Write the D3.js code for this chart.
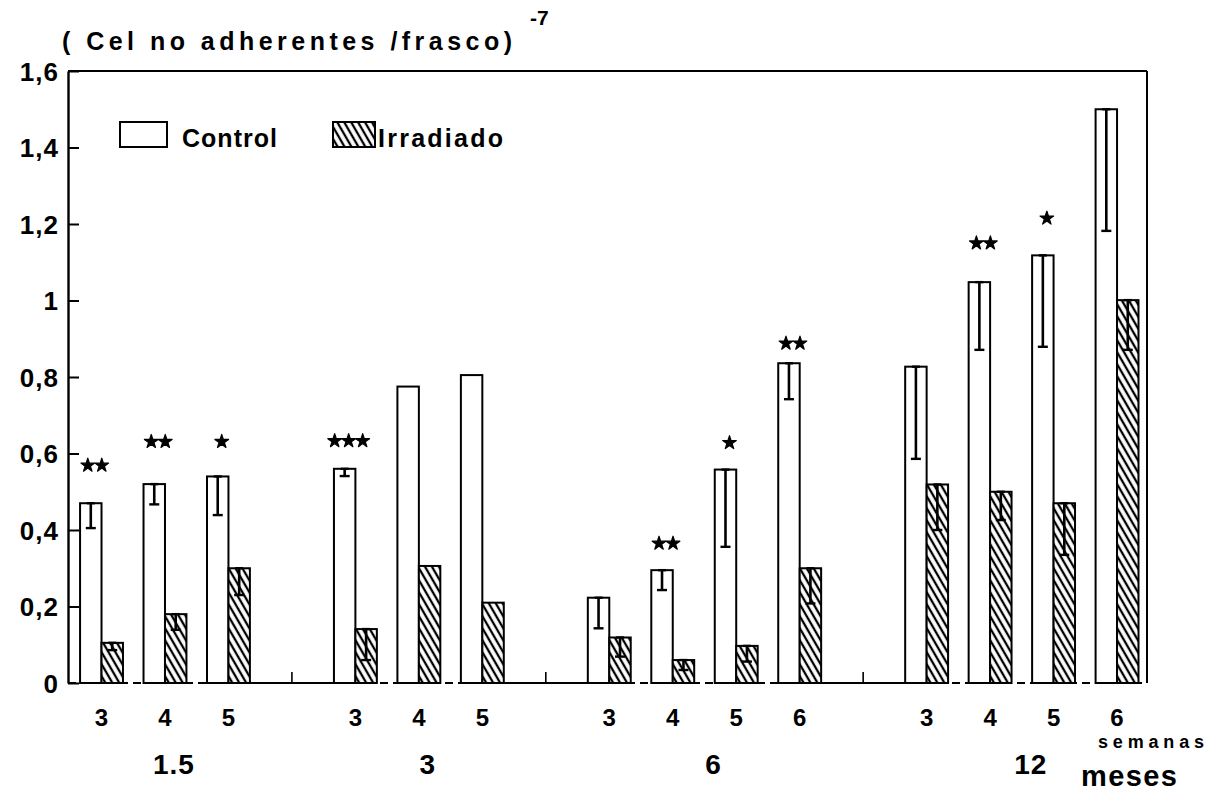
<!DOCTYPE html>
<html>
<head>
<meta charset="utf-8">
<script src="https://cdn.jsdelivr.net/npm/d3@7/dist/d3.min.js"></script>
<style>
  html, body { margin: 0; padding: 0; background: #fff; }
  svg { display: block; font-family: "Liberation Sans", Arial, Helvetica, sans-serif; font-weight: bold; }
</style>
</head>
<body>
<svg id="chart" width="1227" height="798"></svg>
<script>
// Age of the animals (months) and culture week within each age group
const months = ["1.5", "3", "6", "12"];
const weeks = [[3, 4, 5], [3, 4, 5], [3, 4, 5, 6], [3, 4, 5, 6]];

// Non-adherent cells per flask (x 10^7), mean and standard error
const controlMean = [[0.47, 0.52, 0.54], [0.56, 0.775, 0.805], [0.223, 0.295, 0.558, 0.836], [0.827, 1.048, 1.118, 1.50]];
const controlSE   = [[0.065, 0.053, 0.101], [0.019, 0, 0], [0.08, 0.052, 0.202, 0.094], [0.241, 0.177, 0.239, 0.318]];
const irradMean   = [[0.105, 0.18, 0.30], [0.141, 0.306, 0.21], [0.119, 0.06, 0.097, 0.30], [0.519, 0.50, 0.47, 1.001]];
const irradSE     = [[0.019, 0.041, 0.07], [0.081, 0, 0], [0.05, 0.026, 0.041, 0.092], [0.119, 0.074, 0.135, 0.13]];

// Significance marks and the level at which they sit
const signif   = [["**", "**", "*"], ["***", "", ""], ["", "**", "*", "**"], ["", "**", "*", ""]];
const sigLevel = [[0.569, 0.631, 0.631], [0.633, 0, 0], [0, 0.365, 0.628, 0.888], [0, 1.15, 1.215, 0]];

// Value axis
const yTicks = [0, 0.2, 0.4, 0.6, 0.8, 1.0, 1.2, 1.4, 1.6];
const yTickLabels = ["0", "0,2", "0,4", "0,6", "0,8", "1", "1,2", "1,4", "1,6"];

const series = ["Control", "Irradiado"];

const svg = d3.select("#chart");
const plotLeft = 68, plotRight = 1147, plotTop = 71, plotBottom = 683;

const y = d3.scaleLinear().domain([0, 1.6]).range([plotBottom, plotTop]);

// One slot per (age, week) pair, with an empty slot between age groups
const slotKeys = [];
const records = [];
months.forEach((m, gi) => {
  weeks[gi].forEach((w, wi) => {
    const key = m + "|" + w;
    slotKeys.push(key);
    records.push({
      key, month: m, gi, week: w,
      control: controlMean[gi][wi], controlSE: controlSE[gi][wi],
      irrad: irradMean[gi][wi], irradSE: irradSE[gi][wi],
      sig: signif[gi][wi], sigAt: sigLevel[gi][wi]
    });
  });
  if (gi < months.length - 1) slotKeys.push("gap" + gi);
});

const x = d3.scaleBand().domain(slotKeys).range([plotLeft, plotRight]).paddingInner(0).paddingOuter(0);
const bw = x.bandwidth();
const xs = d3.scaleBand().domain(series).range([bw * 0.19, bw * 0.866]);
const pairMid = (xs.range()[0] + xs.range()[1]) / 2;

// Diagonal hatch for the irradiated bars
const defs = svg.append("defs");
const pat = defs.append("pattern")
  .attr("id", "hatch")
  .attr("patternUnits", "userSpaceOnUse")
  .attr("width", 6).attr("height", 10)
  .attr("patternTransform", "rotate(-30)");
pat.append("rect").attr("width", 6).attr("height", 10).attr("fill", "#fff");
pat.append("line").attr("x1", 3).attr("x2", 3).attr("y1", -1).attr("y2", 11)
  .attr("stroke", "#000").attr("stroke-width", 2.3);

// Frame: top and right edges
svg.append("line").attr("x1", plotLeft).attr("x2", plotRight).attr("y1", y(1.6)).attr("y2", y(1.6))
  .attr("stroke", "#000").attr("stroke-width", 2);
svg.append("line").attr("x1", plotRight).attr("x2", plotRight).attr("y1", y(1.6)).attr("y2", y(0))
  .attr("stroke", "#000").attr("stroke-width", 2);

// Baseline: dashed under the groups, solid across the gaps
svg.append("line").attr("x1", plotLeft).attr("x2", plotRight).attr("y1", y(0)).attr("y2", y(0))
  .attr("stroke", "#000").attr("stroke-width", 2).attr("stroke-dasharray", "8 5");
for (let gi = 0; gi < months.length - 1; gi++) {
  const lastKey = months[gi] + "|" + weeks[gi][weeks[gi].length - 1];
  const nextKey = months[gi + 1] + "|" + weeks[gi + 1][0];
  const x1 = x(lastKey) + xs("Irradiado") + xs.bandwidth();
  const x2 = x(nextKey) + xs("Control");
  svg.append("line").attr("x1", x1).attr("x2", x2).attr("y1", y(0)).attr("y2", y(0))
    .attr("stroke", "#000").attr("stroke-width", 2);
  const tx = x("gap" + gi) + pairMid;
  svg.append("line").attr("x1", tx).attr("x2", tx).attr("y1", y(0)).attr("y2", y(0) - 11)
    .attr("stroke", "#000").attr("stroke-width", 1.6);
}

// Value axis with inward ticks
const yAxis = d3.axisLeft(y)
  .tickValues(yTicks)
  .tickFormat((d, i) => yTickLabels[i])
  .tickSizeInner(-11).tickSizeOuter(0).tickPadding(9);
const gy = svg.append("g").attr("transform", `translate(${plotLeft},0)`).call(yAxis);
gy.select(".domain").attr("stroke", "#000").attr("stroke-width", 2.4);
gy.selectAll(".tick line").attr("stroke", "#000").attr("stroke-width", 2);
gy.selectAll(".tick text")
  .attr("fill", "#000").attr("font-size", 26).attr("font-weight", "bold")
  .attr("font-family", "'Liberation Sans', Arial, sans-serif")
  .attr("letter-spacing", 1).attr("dy", "0.36em");

// Bars
const groups = svg.append("g").selectAll("g.slot").data(records).join("g")
  .attr("class", "slot")
  .attr("transform", d => `translate(${x(d.key)},0)`);

groups.append("rect")
  .attr("x", xs("Control")).attr("width", xs.bandwidth())
  .attr("y", d => y(d.control)).attr("height", d => y(0) - y(d.control))
  .attr("fill", "#fff").attr("stroke", "#000").attr("stroke-width", 2);

groups.append("rect")
  .attr("x", xs("Irradiado")).attr("width", xs.bandwidth())
  .attr("y", d => y(d.irrad)).attr("height", d => y(0) - y(d.irrad))
  .attr("fill", "url(#hatch)").attr("stroke", "#000").attr("stroke-width", 2);

// Error bars (lower half) with caps
function errorBar(sel, name, meanKey, seKey) {
  const cx = xs(name) + xs.bandwidth() / 2;
  const withErr = sel.filter(d => d[seKey] > 0);
  withErr.append("line")
    .attr("x1", cx).attr("x2", cx)
    .attr("y1", d => y(d[meanKey])).attr("y2", d => y(d[meanKey] - d[seKey]))
    .attr("stroke", "#000").attr("stroke-width", 2.6);
  withErr.append("line")
    .attr("x1", cx - 5).attr("x2", cx + 5)
    .attr("y1", d => y(d[meanKey] - d[seKey])).attr("y2", d => y(d[meanKey] - d[seKey]))
    .attr("stroke", "#000").attr("stroke-width", 2.4);
  withErr.append("line")
    .attr("x1", cx - 4).attr("x2", cx + 4)
    .attr("y1", d => y(d[meanKey])).attr("y2", d => y(d[meanKey]))
    .attr("stroke", "#000").attr("stroke-width", 2.4);
}
errorBar(groups, "Control", "control", "controlSE");
errorBar(groups, "Irradiado", "irrad", "irradSE");

// Significance stars over the control bars
const star = d3.symbol().type(d3.symbolStar).size(58);
groups.filter(d => d.sig.length > 0).each(function (d) {
  const n = d.sig.length;
  const cx = xs("Control") + xs.bandwidth() / 2 + 4;
  for (let k = 0; k < n; k++) {
    d3.select(this).append("path")
      .attr("d", star())
      .attr("transform", `translate(${cx + (k - (n - 1) / 2) * 14},${y(d.sigAt)})`)
      .attr("fill", "#000").attr("stroke", "#000").attr("stroke-width", 1.2)
      .attr("stroke-linejoin", "round");
  }
});

// Week labels under each pair
svg.append("g").selectAll("text").data(records).join("text")
  .attr("x", d => x(d.key) + pairMid)
  .attr("y", 726)
  .attr("text-anchor", "middle")
  .attr("font-size", 24)
  .text(d => d.week);

// Age labels under each group
months.forEach((m, gi) => {
  const keys = weeks[gi].map(w => m + "|" + w);
  const cx = d3.mean(keys, k => x(k) + pairMid) + 9;
  svg.append("text")
    .attr("x", cx).attr("y", 774)
    .attr("text-anchor", "middle")
    .attr("font-size", 28)
    .attr("letter-spacing", 1)
    .text(m);
});

svg.append("text").attr("x", 1098).attr("y", 748)
  .attr("font-size", 18).attr("textLength", 106).attr("lengthAdjust", "spacing")
  .text("semanas");
svg.append("text").attr("x", 1081).attr("y", 786)
  .attr("font-size", 29).attr("textLength", 96).attr("lengthAdjust", "spacing")
  .text("meses");

// Unit label
svg.append("text").attr("x", 62).attr("y", 50)
  .attr("font-size", 25).attr("textLength", 450).attr("lengthAdjust", "spacing")
  .text("( Cel no adherentes /frasco)");
svg.append("text").attr("x", 530).attr("y", 25)
  .attr("font-size", 21)
  .text("-7");

// Legend
const legend = [
  { name: "Control", box: [120, 122, 47, 25], tx: 182, len: 95, fill: "#fff" },
  { name: "Irradiado", box: [333, 122, 42, 25], tx: 378, len: 125, fill: "url(#hatch)" }
];
legend.forEach(l => {
  svg.append("rect").attr("x", l.box[0]).attr("y", l.box[1])
    .attr("width", l.box[2]).attr("height", l.box[3])
    .attr("fill", l.fill).attr("stroke", "#000").attr("stroke-width", 2);
  svg.append("text").attr("x", l.tx).attr("y", 147)
    .attr("font-size", 25).attr("textLength", l.len).attr("lengthAdjust", "spacing")
    .text(l.name);
});
</script>
</body>
</html>
